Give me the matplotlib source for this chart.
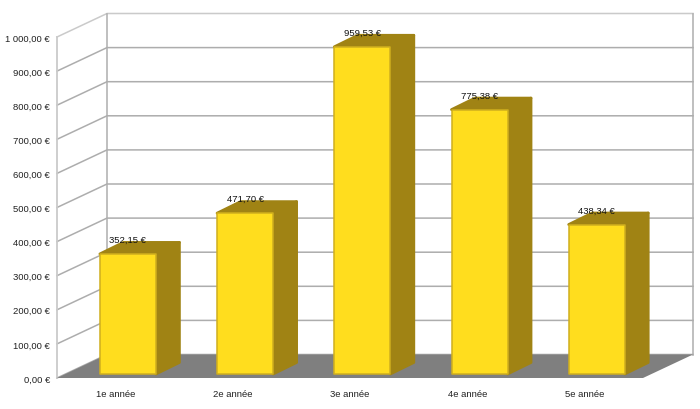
import matplotlib
matplotlib.use("Agg")
import matplotlib.pyplot as plt
from matplotlib.patches import Polygon

categories = ["1e année", "2e année", "3e année", "4e année", "5e année"]
values = [352.15, 471.70, 959.53, 775.38, 438.34]
value_labels = ["352,15 €", "471,70 €", "959,53 €", "775,38 €", "438,34 €"]
y_ticks = [0, 100, 200, 300, 400, 500, 600, 700, 800, 900, 1000]
y_labels = ["0,00 €", "100,00 €", "200,00 €", "300,00 €", "400,00 €", "500,00 €",
            "600,00 €", "700,00 €", "800,00 €", "900,00 €", "1 000,00 €"]

plt.rcParams["font.family"] = ["Liberation Sans", "DejaVu Sans"]

W, H = 700, 410
fig = plt.figure(figsize=(W / 100, H / 100), dpi=100)
# axes = the front plane of the 3D box
ax = fig.add_axes([57 / W, (H - 379) / H, (643 - 57) / W, (379 - 38) / H])
ax.set_xlim(0, 5)
ax.set_ylim(0, 1000)
ax.patch.set_alpha(0)

# depth of the box in data units (50 px right, 23.5 px up)
PX_X = 117.2
PX_Y = 0.341
DX = 50 / PX_X
DY = 23.5 / PX_Y
BAR_W = 56 / PX_X
BAR_DX = 23.5 / PX_X  # bar depth
BAR_DY = 11.5 / PX_Y
BAR_X = 12.3 / PX_X  # where the bar front stands in the box
BAR_Y = 4 / PX_Y

GRID = "#adadad"
WALL = "#cacaca"
SIDE = "#a08314"


def poly(pts, **kw):
    ax.add_patch(Polygon(pts, closed=True, clip_on=False, **kw))


# floor
poly([(0, 0), (5, 0), (5 + DX, DY), (DX, DY)], fc="#7f7f7f", ec="none", zorder=2)

# walls
for v in y_ticks:
    color = WALL if v == 1000 else GRID
    ax.plot([0, DX, 5 + DX], [v, v + DY, v + DY], color=color, lw=1.1, clip_on=False, zorder=1)
ax.plot([0, 0], [0, 1000], color=WALL, lw=1.3, clip_on=False, zorder=1)
ax.plot([DX, DX], [DY, 1000 + DY], color=GRID, lw=1.1, clip_on=False, zorder=1)
ax.plot([5 + DX, 5 + DX], [DY, 1000 + DY], color=GRID, lw=1.1, clip_on=False, zorder=1)

# bars
for i, v in enumerate(values):
    x0 = i + 0.5 + BAR_X - BAR_W / 2
    x1 = x0 + BAR_W
    y0 = BAR_Y
    y1 = y0 + v
    poly([(x1, y0), (x1 + BAR_DX, y0 + BAR_DY), (x1 + BAR_DX, y1 + BAR_DY), (x1, y1)],
         fc=SIDE, ec=SIDE, lw=2, joinstyle="round", zorder=3)
    poly([(x0, y1), (x1, y1), (x1 + BAR_DX, y1 + BAR_DY), (x0 + BAR_DX, y1 + BAR_DY)],
         fc=SIDE, ec=SIDE, lw=2, joinstyle="round", zorder=3)
    poly([(x0, y0), (x1, y0), (x1, y1), (x0, y1)],
         fc="#ffdd1e", ec="#d0af1e", lw=1.1, joinstyle="round", zorder=4)
    ax.annotate(value_labels[i], ((x0 + x1) / 2, y1), xytext=(0, 10.4),
                textcoords="offset points", ha="center", va="center",
                fontsize=6.8, color="#111111", zorder=5, annotation_clip=False)

for s in ax.spines.values():
    s.set_visible(False)

ax.set_yticks(y_ticks)
ax.set_yticklabels(y_labels)
ax.set_xticks([i + 0.5 for i in range(len(categories))])
ax.set_xticklabels(categories)
ax.tick_params(axis="y", length=0, pad=5, labelsize=6.8, labelcolor="#222222")
ax.tick_params(axis="x", length=0, pad=8, labelsize=6.8, labelcolor="#222222")

fig.savefig("out.png", dpi=100, facecolor="white")
